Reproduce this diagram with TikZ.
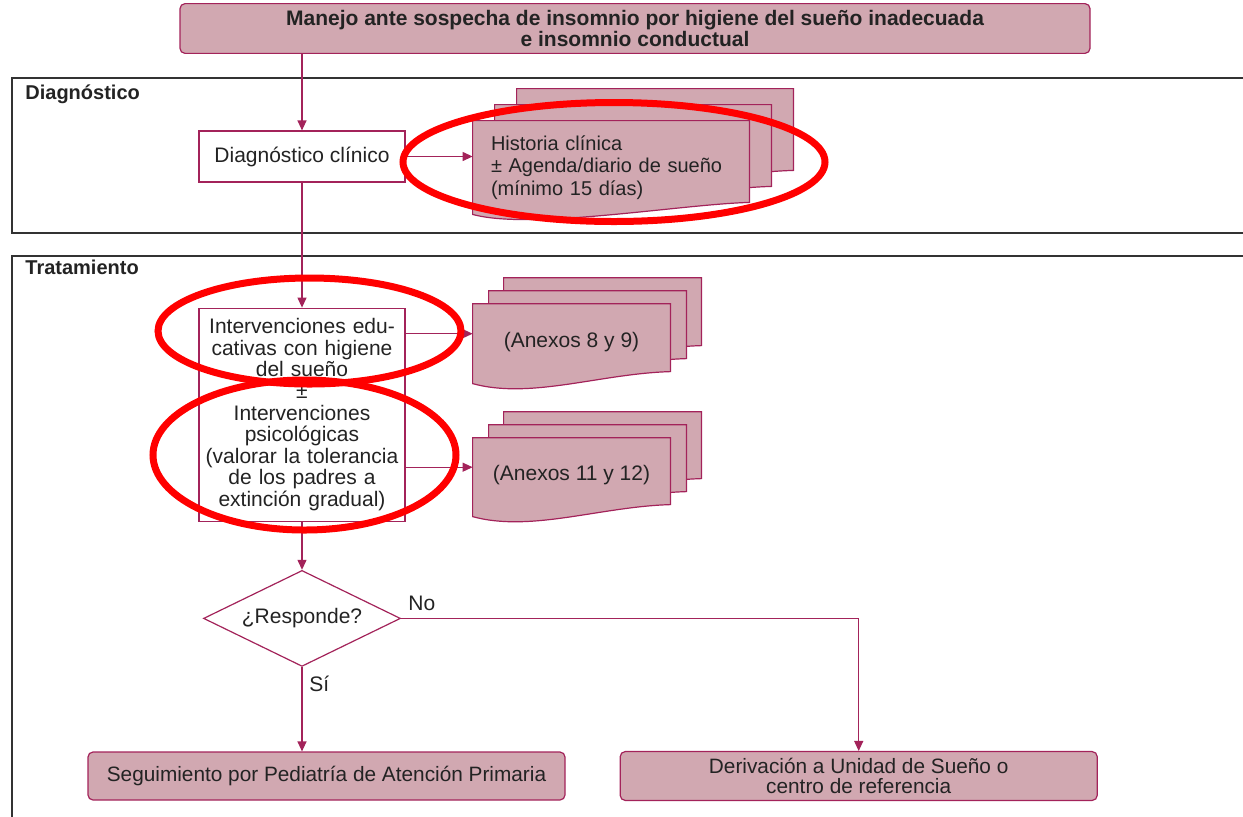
\documentclass[tikz,border=0pt]{standalone}
\usepackage{fontspec}
\setmainfont{Liberation Sans}
\usepackage{tikz}
\usetikzlibrary{positioning,shapes.geometric,arrows.meta,backgrounds}

\definecolor{boxfill}{RGB}{209,168,177}
\definecolor{boxline}{RGB}{163,35,90}
\definecolor{txtgray}{RGB}{35,35,35}
\definecolor{framegray}{RGB}{50,50,50}

\tikzset{
  hdr/.style={rectangle, rounded corners=2.5pt, draw=boxline, fill=boxfill, line width=0.6pt,
    minimum width=455pt, minimum height=23.5pt, align=center,
    font=\bfseries\fontsize{10.5}{10.5}\selectfont},
  proc/.style={rectangle, draw=boxline, fill=white, line width=0.6pt,
    minimum width=103pt, minimum height=25.5pt, align=center},
  decision/.style={diamond, aspect=2, draw=boxline, fill=white, line width=0.6pt,
    minimum width=98.5pt, minimum height=48pt, inner sep=0pt},
  docnode/.style={rectangle, draw=none, align=center},
  docsheet/.style={draw=boxline, fill=boxfill, line width=0.6pt},
  term/.style={rectangle, rounded corners=2.5pt, draw=boxline, fill=boxfill, line width=0.6pt,
    minimum width=238.5pt, minimum height=24pt, align=center,
    font=\fontsize{10.4}{10}\selectfont},
  flow/.style={draw=boxline, line width=0.6pt, -{Triangle[length=5pt, width=4.5pt]}},
  frame/.style={draw=framegray, line width=0.75pt},
  seclabel/.style={font=\bfseries\fontsize{10}{10}\selectfont, anchor=base west, inner sep=0pt},
  redring/.style={draw=red, line width=3.5pt}
}

% one sheet of a document stack, shifted by (#2,#3) from node #1
\newcommand{\docpage}[3]{%
  \filldraw[docsheet] ([shift={(#2,#3)}]#1.north west) -- ([shift={(#2,#3)}]#1.north east)
    -- ([shift={(#2,#3)}]#1.south east) .. controls +(-70,2) and +(58,16) .. ([shift={(#2,#3+12)}]#1.south west) -- cycle;}

\begin{document}
\begin{tikzpicture}[x=0.5pt, y=-0.5pt, text=txtgray, font=\fontsize{10.5}{10.8}\selectfont]
  \useasboundingbox (0,0) rectangle (1243,816);

  % Sections
  \draw[frame] (12,78) rectangle (1260,233);
  \draw[frame] (12,256) rectangle (1260,840);
  \node[seclabel] (secdx) at (25,99) {Diagnóstico};
  \node[seclabel] (sectx) at (25,274) {Tratamiento};

  % Define nodes
  \node[hdr] (title) at (635,28.5) {Manejo ante sospecha de insomnio por higiene del sueño inadecuada\\e insomnio conductual};
  \node[proc] (dxbox) at (302,156.5) {Diagnóstico clínico};
  \node[docnode, text width=120pt, align=left, inner xsep=9pt, minimum height=40.5pt,
    right = 33.5pt of dxbox, yshift=-5.5pt, font=\fontsize{10}{11.2}\selectfont] (hist)
    {Historia clínica\\± Agenda/diario de sueño\\(mínimo 15 días)};
  \node[proc, text width=99pt, inner xsep=2pt, minimum height=106.5pt, below = 62.5pt of dxbox] (interv)
    {Intervenciones edu-\\cativas con higiene\\del sueño\\±\\Intervenciones\\psicológicas\\(valorar la tolerancia\\de los padres a\\extinción gradual)};
  \node[docnode, minimum width=98.5pt, minimum height=33.5pt, right = 33.5pt of interv, yshift=36.5pt] (anx1) {(Anexos 8 y 9)};
  \node[docnode, minimum width=98.5pt, minimum height=33pt, right = 33.5pt of interv, yshift=-30.25pt] (anx2) {(Anexos 11 y 12)};
  \node[decision, below = 24pt of interv] (resp) {¿Responde?};
  \node[term] (seg) at (326.5,776) {Seguimiento por Pediatría de Atención Primaria};
  \node[term, right = 27pt of seg] (deriv) {Derivación a Unidad de Sueño o\\centro de referencia};

  % Document stacks
  \begin{scope}[on background layer]
    \docpage{hist}{44}{-38} \docpage{hist}{22}{-22} \docpage{hist}{0}{-6}
    \docpage{anx1}{31}{-30} \docpage{anx1}{16}{-17} \docpage{anx1}{0}{-4}
    \docpage{anx2}{31}{-30} \docpage{anx2}{16}{-17} \docpage{anx2}{0}{-4}
  \end{scope}

  % Connectors
  \draw[flow] (title.south -| dxbox.north) -- (dxbox.north);
  \draw[flow] (dxbox.east) -- (dxbox.east -| hist.west);
  \draw[flow] (dxbox) -- (interv);
  \draw[flow] ([yshift=4pt]anx1.west -| interv.east) -- ([yshift=4pt]anx1.west);
  \draw[flow] ([yshift=4pt]anx2.west -| interv.east) -- ([yshift=4pt]anx2.west);
  \draw[flow] (interv) -- (resp);
  \draw[flow] (resp.south) -- node[pos=0.2, right] {Sí} (resp.south |- seg.north);
  \draw[flow] (resp.east) -- node[pos=0, above right] {No} (resp.east -| deriv.north) -- (deriv.north);

  % Red marks
  \draw[redring] (614,162) ellipse [x radius=105.5pt, y radius=29.75pt];
  \draw[redring] (309.5,331) ellipse [x radius=75.75pt, y radius=26.5pt];
  \draw[redring] (304.5,455) ellipse [x radius=75.75pt, y radius=37.5pt];
\end{tikzpicture}
\end{document}
